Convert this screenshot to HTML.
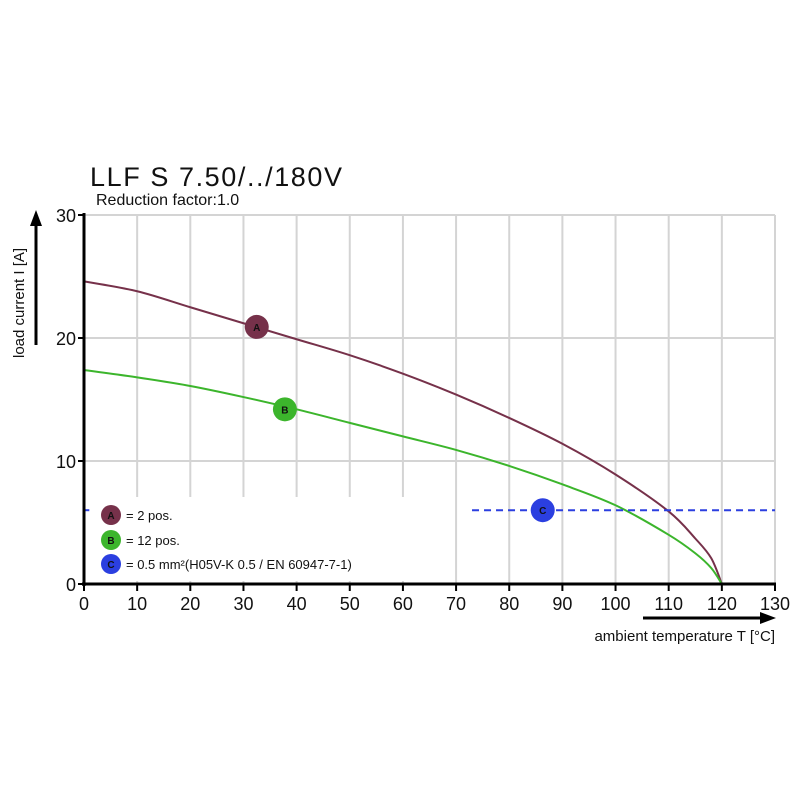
<!DOCTYPE html>
<html><head><meta charset="utf-8"><style>
body{margin:0;background:#fff;}
svg text{font-family:"Liberation Sans",sans-serif;}
</style></head><body>
<svg id="chart" width="800" height="800" viewBox="0 0 800 800">
<text x="90" y="186" font-size="27" fill="#111" textLength="252">LLF S 7.50/../180V</text>
<text x="96" y="205" font-size="16" fill="#111">Reduction factor:1.0</text>
<g id="grid"></g>
<rect x="90" y="497" width="362" height="84" fill="#fff"/>
<g id="series"></g>
<g id="axes"></g>
<g>
 <g><circle cx="111" cy="515" r="10" fill="#76314a"/><text x="111" y="519" font-size="10" font-weight="bold" text-anchor="middle" fill="#111">A</text><text x="126" y="520" font-size="13" fill="#111">= 2 pos.</text></g>
 <g><circle cx="111" cy="540" r="10" fill="#3cb52c"/><text x="111" y="544" font-size="10" font-weight="bold" text-anchor="middle" fill="#111">B</text><text x="126" y="545" font-size="13" fill="#111">= 12 pos.</text></g>
 <g><circle cx="111" cy="564" r="10" fill="#2b3fe0"/><text x="111" y="568" font-size="10" font-weight="bold" text-anchor="middle" fill="#111">C</text><text x="126" y="569" font-size="13" fill="#111">= 0.5 mm²(H05V-K 0.5 / EN 60947-7-1)</text></g>
</g>
<g>
 <text transform="translate(24,358) rotate(-90)" font-size="15" fill="#111">load current I [A]</text>
 <line x1="36" y1="345" x2="36" y2="225" stroke="#000" stroke-width="3"/>
 <polygon points="36,210 30,226 42,226" fill="#000"/>
</g>
<g>
 <line x1="643" y1="618" x2="762" y2="618" stroke="#000" stroke-width="3"/>
 <polygon points="776,618 760,612 760,624" fill="#000"/>
 <text x="775" y="641" font-size="15" text-anchor="end" fill="#111">ambient temperature T [°C]</text>
</g>
</svg>
<script>
const xTicks=[0,10,20,30,40,50,60,70,80,90,100,110,120,130];
const yTicks=[0,10,20,30];
const tempA=[0,10,20,30,40,50,60,70,80,90,100,110,115,118,120];
const currentA=[24.6,23.8,22.5,21.2,19.9,18.6,17.1,15.4,13.5,11.4,8.9,5.9,3.7,2.1,0];
const tempB=[0,10,20,30,40,50,60,70,80,90,100,110,115,118,120];
const currentB=[17.4,16.8,16.1,15.2,14.2,13.1,12.0,10.9,9.6,8.1,6.4,4.0,2.5,1.3,0];
const wireLimitC=6.0;
const markerA=[32.5,20.9], markerB=[37.8,14.2], markerC=[86.3,6.0];
const NS="http://www.w3.org/2000/svg";
const X=v=>84+v*(775-84)/130;
const Y=v=>584-v*(584-215)/30;
function mk(tag,attrs,parent){const e=document.createElementNS(NS,tag);for(const k in attrs)e.setAttribute(k,attrs[k]);parent.appendChild(e);return e;}
const grid=document.getElementById('grid'),series=document.getElementById('series'),axes=document.getElementById('axes');
xTicks.forEach(t=>{if(t===0)return;const l=mk('line',{x1:X(t),x2:X(t),y1:Y(30),y2:Y(0),stroke:'#d4d4d4','stroke-width':2},grid);

});
yTicks.forEach(t=>{if(t===0)return;const l=mk('line',{x1:X(0),x2:X(130),y1:Y(t),y2:Y(t),stroke:'#d4d4d4','stroke-width':2},grid);

});
function line(xs,ys,color,name){
const P=xs.map((x,i)=>[X(x),Y(ys[i])]);
let d='M'+P[0][0]+','+P[0][1];
for(let i=0;i<P.length-1;i++){const p0=P[Math.max(0,i-1)],p1=P[i],p2=P[i+1],p3=P[Math.min(P.length-1,i+2)];
const c1=[p1[0]+(p2[0]-p0[0])/6,p1[1]+(p2[1]-p0[1])/6],c2=[p2[0]-(p3[0]-p1[0])/6,p2[1]-(p3[1]-p1[1])/6];
d+=' C'+c1[0]+','+c1[1]+' '+c2[0]+','+c2[1]+' '+p2[0]+','+p2[1];}
const p=mk('path',{d:d,fill:'none',stroke:color,'stroke-width':2},series);

}
line(tempA,currentA,'#76314a','curve-a');
line(tempB,currentB,'#3cb52c','curve-b');
const c1=mk('line',{x1:X(73),x2:X(130),y1:Y(wireLimitC),y2:Y(wireLimitC),stroke:'#2b3fe0','stroke-width':2,'stroke-dasharray':'7,5'},series);


const c2=mk('line',{x1:X(0),x2:X(1),y1:Y(wireLimitC),y2:Y(wireLimitC),stroke:'#2b3fe0','stroke-width':2},series);


function marker(m,color,lbl,name){const g=mk('g',{},series);


mk('circle',{cx:X(m[0]),cy:Y(m[1]),r:12,fill:color},g);
const t=mk('text',{x:X(m[0]),y:Y(m[1])+4,'font-size':10,'font-weight':'bold','text-anchor':'middle',fill:'#111'},g);t.textContent=lbl;}
marker(markerA,'#76314a','A','marker-a');marker(markerB,'#3cb52c','B','marker-b');marker(markerC,'#2b3fe0','C','marker-c');
const ya=mk('line',{x1:X(0),x2:X(0),y1:Y(30)-2,y2:Y(0)+2,stroke:'#000','stroke-width':3},axes);


const xa=mk('line',{x1:X(0)-2,x2:X(130)+1,y1:Y(0),y2:Y(0),stroke:'#000','stroke-width':3},axes);


xTicks.forEach(t=>{mk('line',{x1:X(t),x2:X(t),y1:Y(0),y2:Y(0)+7,stroke:'#000','stroke-width':2},axes);
const tx=mk('text',{x:X(t),y:Y(0)+26,'font-size':18,'text-anchor':'middle',fill:'#111'},axes);tx.textContent=t;

});
yTicks.forEach(t=>{mk('line',{x1:X(0)-6,x2:X(0),y1:Y(t),y2:Y(t),stroke:'#000','stroke-width':2},axes);
const tx=mk('text',{x:X(0)-8,y:Y(t)+7,'font-size':18,'text-anchor':'end',fill:'#111'},axes);tx.textContent=t;

});
</script>
</body></html>
